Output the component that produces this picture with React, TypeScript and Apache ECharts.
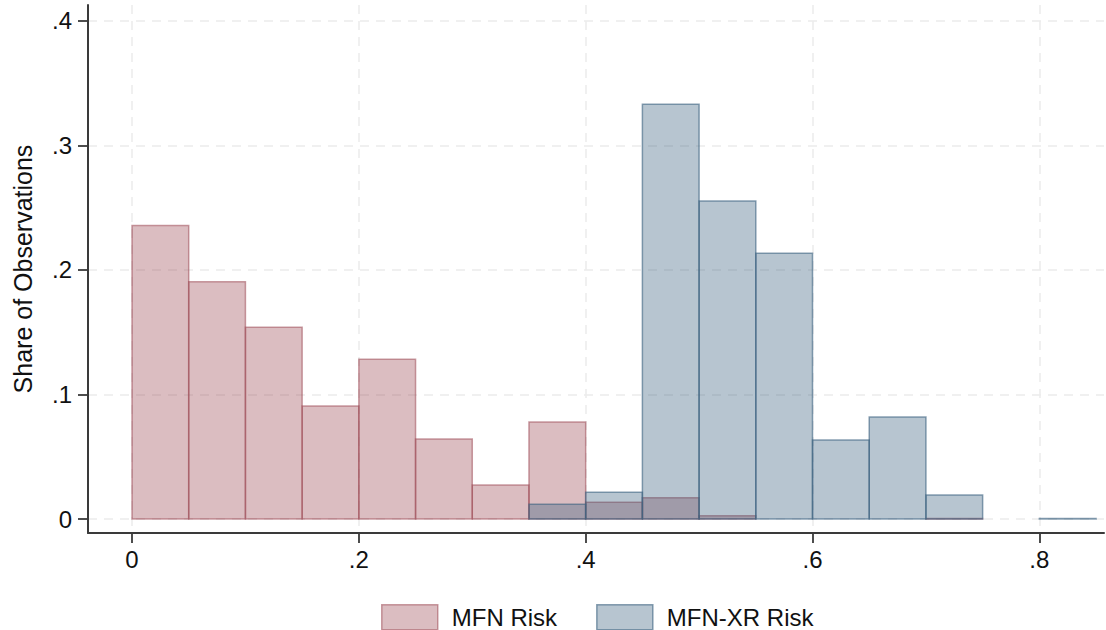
import React, { useEffect, useRef } from "react";
import * as echarts from "echarts";

const binStarts = [0, 0.05, 0.1, 0.15, 0.2, 0.25, 0.3, 0.35, 0.4, 0.45, 0.5, 0.55, 0.6, 0.65, 0.7, 0.75, 0.8];
const binWidth = 0.05;
const mfnShare = [0.2357, 0.1905, 0.154, 0.0907, 0.1283, 0.0642, 0.0273, 0.0779, 0.0134, 0.0171, 0.0027, 0, 0, 0, 0.0004, 0, 0];
const xrShare = [0, 0, 0, 0, 0, 0, 0, 0.0118, 0.0216, 0.3330, 0.2552, 0.2134, 0.0634, 0.0819, 0.0193, 0, 0.0005];
const xTicks = [0, 0.2, 0.4, 0.6, 0.8];
const yTicks = [0, 0.1, 0.2, 0.3, 0.4];
const seriesNames = ["MFN Risk", "MFN-XR Risk"];

const FONT = "'Liberation Sans', Arial, sans-serif";
const mfnFill = "rgba(158,76,87,0.37)";
const mfnStroke = "rgba(158,76,87,0.55)";
const xrFill = "rgba(60,98,128,0.37)";
const xrStroke = "rgba(60,98,128,0.6)";

const fmt = (v: number) => (v === 0 ? "0" : v.toFixed(1).replace(/^0/, ""));

function histSeries(name: string, values: number[], fill: string, stroke: string) {
  return {
    type: "custom",
    name,
    encode: { x: [0, 1], y: 2 },
    data: binStarts.map((b, i) => [b, b + binWidth, values[i]]),
    renderItem: (params: any, api: any) => {
      const v = api.value(2);
      if (!v) return null;
      const p0 = api.coord([api.value(0), v]);
      const p1 = api.coord([api.value(1), 0]);
      return {
        type: "rect",
        shape: { x: p0[0], y: p0[1], width: p1[0] - p0[0], height: p1[1] - p0[1] },
        style: { fill, stroke, lineWidth: 1.5 },
      };
    },
    itemStyle: { color: fill, borderColor: stroke, borderWidth: 1.5 },
  };
}

export default function App() {
  const ref = useRef<HTMLDivElement>(null);
  useEffect(() => {
    if (!ref.current) return;
    const chart = echarts.init(ref.current, null, { renderer: "svg" });
    const axisLine = { show: true, onZero: false, lineStyle: { color: "#3a3a3a", width: 2 } };
    const axisTick = { show: true, length: 10, lineStyle: { color: "#3a3a3a", width: 1.8 } };
    const splitLine = { show: true, lineStyle: { color: "#ebebeb", width: 1.5, type: [9, 7] } };
    chart.setOption({
      animation: false,
      backgroundColor: "#ffffff",
      textStyle: { fontFamily: FONT },
      grid: { left: 88, top: 5, right: 2, bottom: 97, containLabel: false },
      xAxis: {
        type: "value",
        min: -0.0388,
        max: 0.857,
        axisLine,
        axisTick: { ...axisTick, customValues: xTicks },
        axisLabel: { customValues: xTicks, formatter: fmt, fontSize: 24, color: "#111", fontFamily: FONT, margin: 14 },
        splitLine,
      },
      yAxis: {
        type: "value",
        min: -0.0112,
        max: 0.4126,
        name: "Share of Observations",
        nameLocation: "middle",
        nameGap: 53,
        nameTextStyle: { fontSize: 25, color: "#111", fontFamily: FONT },
        axisLine,
        axisTick: { ...axisTick, customValues: yTicks },
        axisLabel: { customValues: yTicks, formatter: fmt, fontSize: 24, color: "#111", fontFamily: FONT, margin: 16 },
        splitLine,
      },
      legend: {
        top: 599,
        left: 376,
        itemWidth: 56,
        itemHeight: 25,
        itemGap: 39,
        icon: "rect",
        textStyle: { fontSize: 24, color: "#111", fontFamily: FONT, padding: [0, 0, 0, 9] },
        data: [
          { name: seriesNames[0], itemStyle: { color: mfnFill, borderColor: mfnStroke, borderWidth: 1.5 } },
          { name: seriesNames[1], itemStyle: { color: xrFill, borderColor: xrStroke, borderWidth: 1.5 } },
        ],
      },
      series: [
        histSeries(seriesNames[0], mfnShare, mfnFill, mfnStroke),
        histSeries(seriesNames[1], xrShare, xrFill, xrStroke),
      ],
    });
    return () => chart.dispose();
  }, []);
  return (
    <div
      ref={ref}
      style={{ position: "fixed", left: 0, top: 0, width: 1106, height: 630, background: "#fff" }}
    />
  );
}
